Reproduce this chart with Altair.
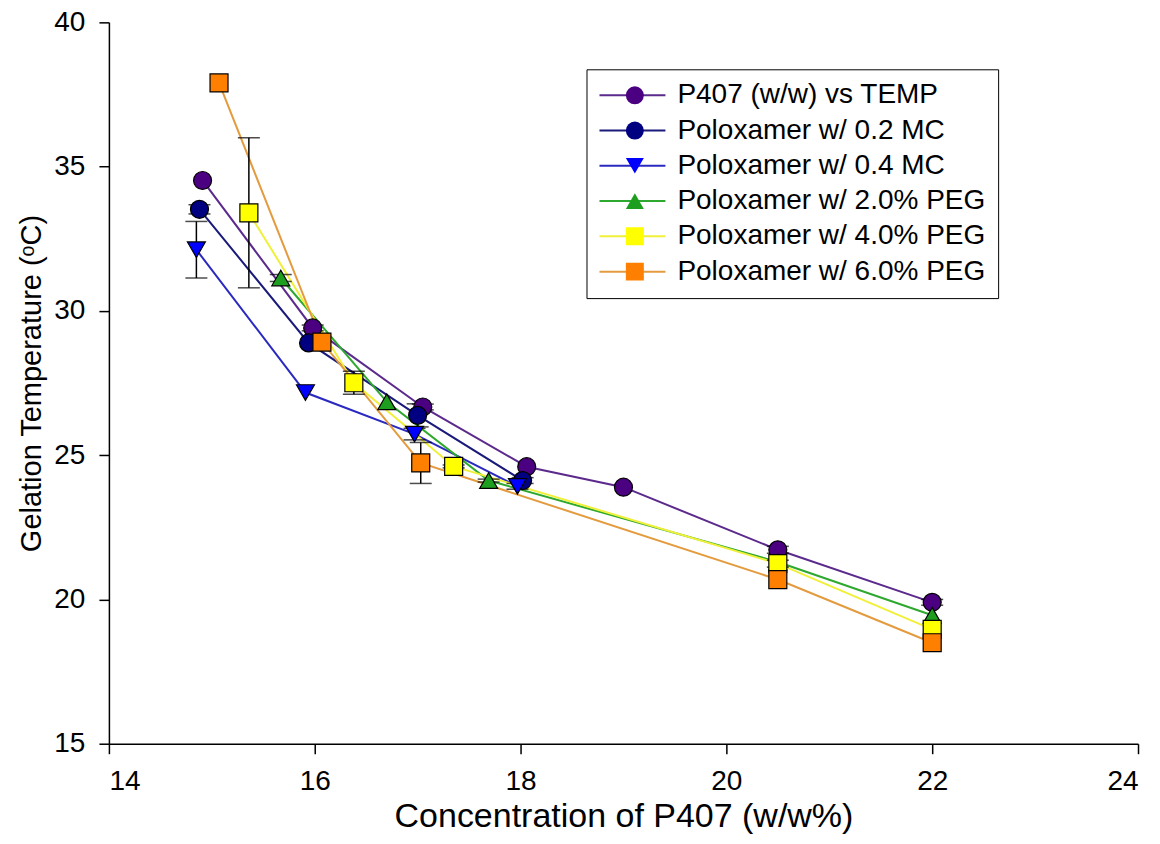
import altair as alt
import pandas as pd

# ---- data ----
names = ["P407 (w/w) vs TEMP", "Poloxamer w/ 0.2 MC", "Poloxamer w/ 0.4 MC",
         "Poloxamer w/ 2.0% PEG", "Poloxamer w/ 4.0% PEG", "Poloxamer w/ 6.0% PEG"]
keys = ["k1", "k2", "k3", "k4", "k5", "k6"]

x_p407 = [14.91, 15.98, 17.05, 18.06, 19.00, 20.50, 22.00]
y_p407 = [34.52, 29.41, 26.67, 24.60, 23.89, 21.72, 19.90]
e_p407 = [0, 0.10, 0.10, 0, 0, 0.12, 0.10]

x_mc02 = [14.88, 15.94, 17.00, 18.02]
y_mc02 = [33.52, 28.89, 26.38, 24.12]
e_mc02 = [0.16, 0, 0.40, 0.10]

x_mc04 = [14.85, 15.91, 16.97, 17.97]
y_mc04 = [32.12, 27.17, 25.73, 23.92]
e_mc04 = [0.98, 0, 0.20, 0.10]

x_peg2 = [15.67, 16.70, 17.69, 20.50, 22.00]
y_peg2 = [31.14, 26.85, 24.12, 21.30, 19.45]
e_peg2 = [0.12, 0, 0.05, 0, 0]

x_peg4 = [15.36, 16.38, 17.35, 20.50, 22.00]
y_peg4 = [33.40, 27.51, 24.61, 21.24, 18.96]
e_peg4 = [2.60, 0.40, 0.05, 0.12, 0]

x_peg6 = [15.07, 16.07, 17.03, 20.50, 22.00]
y_peg6 = [37.90, 28.92, 24.73, 20.69, 18.50]
e_peg6 = [0, 0, 0.71, 0, 0]

x_ticks = [14, 16, 18, 20, 22, 24]
y_ticks = [15, 20, 25, 30, 35, 40]

# ---- styles ----
fill_colors = ["#4B0082", "#000080", "#0000FF", "#1E9E1E", "#FFFF00", "#FF8000"]
line_colors = ["#5B2A8C", "#1A1A7A", "#2A2AC0", "#2EA82E", "#F0F03A", "#E49B3E"]
shapes = ["circle", "circle", "triangle-down", "triangle-up", "square", "square"]
sizes = [324, 324, 361, 361, 240, 240]

xs = [x_p407, x_mc02, x_mc04, x_peg2, x_peg4, x_peg6]
ys = [y_p407, y_mc02, y_mc04, y_peg2, y_peg4, y_peg6]
es = [e_p407, e_mc02, e_mc04, e_peg2, e_peg4, e_peg6]

rows = []
for i in range(len(names)):
    for xv, yv, ev in zip(xs[i], ys[i], es[i]):
        rows.append({"series": names[i], "key": keys[i], "x": xv, "y": yv,
                     "lo": yv - ev, "hi": yv + ev, "e": ev})
df = pd.DataFrame(rows)
err_df = df[df["e"] > 0]

FONT = "Liberation Sans"
XT = "Concentration of P407 (w/w%)"
YT = "Gelation Temperature (\u1d52C)"

x_scale = alt.Scale(domain=[14, 24], nice=False)
y_scale = alt.Scale(domain=[15, 40], nice=False)
x_axis = alt.Axis(values=x_ticks, format="d", title=XT, labelFontSize=28, labelFont=FONT,
                  titleFontSize=34, titleFont=FONT, labelPadding=14, titlePadding=4)
y_axis = alt.Axis(values=y_ticks, format="d", title=YT, labelFontSize=28, labelFont=FONT,
                  titleFontSize=29, titleFont=FONT, labelPadding=14, titlePadding=7)

LEG_Y = 47
LEG_PAD = 12
line_legend = alt.Legend(orient="none", legendX=478, legendY=LEG_Y, padding=LEG_PAD,
                         symbolType="stroke", symbolSize=4356, symbolStrokeWidth=2,
                         clipHeight=28, rowPadding=7.3, labelFont=FONT,
                         labelFontSize=28, labelOffset=11, labelColor="black",
                         labelLimit=500, strokeColor="black", title=None)

sym_legend = alt.Legend(orient="none", legendX=500.4, legendY=LEG_Y, padding=LEG_PAD,
                        clipHeight=28, rowPadding=7.3, labelFont=FONT,
                        labelFontSize=28, labelExpr="''", labelLimit=500,
                        symbolSize=324, symbolStrokeColor="black",
                        symbolStrokeWidth=1.2, symbolOpacity=1, title=None)

lines = alt.Chart(df).mark_line(strokeWidth=2).encode(
    x=alt.X("x:Q", scale=x_scale, axis=x_axis),
    y=alt.Y("y:Q", scale=y_scale, axis=y_axis),
    stroke=alt.Stroke("series:N", scale=alt.Scale(domain=names, range=line_colors),
                      legend=line_legend),
    order="x:Q",
)

errs = alt.Chart(err_df).mark_errorbar(ticks=True, color="black", thickness=1.5, size=22).encode(
    x=alt.X("x:Q", scale=x_scale, axis=x_axis),
    y=alt.Y("lo:Q", scale=y_scale, axis=y_axis),
    y2="hi:Q",
)

points = alt.Chart(df).mark_point(filled=True, stroke="black", strokeWidth=1.2, opacity=1).encode(
    x=alt.X("x:Q", scale=x_scale, axis=x_axis),
    y=alt.Y("y:Q", scale=y_scale, axis=y_axis),
    color=alt.Color("key:N", scale=alt.Scale(domain=keys, range=fill_colors), legend=sym_legend),
    shape=alt.Shape("key:N", scale=alt.Scale(domain=keys, range=shapes), legend=sym_legend),
    size=alt.Size("key:N", scale=alt.Scale(domain=keys, range=sizes), legend=None),
)

chart = alt.layer(lines, errs, points).properties(
    width=1030, height=722,
    autosize=alt.AutoSizeParams(type="none"),
    padding={"left": 101, "top": 14, "right": 14, "bottom": 90},
).configure_view(strokeWidth=0).configure_axis(
    domainColor="black", domainWidth=1.5, tickColor="black", tickWidth=1.5,
    tickSize=10, labelColor="black", titleColor="black", titleFontWeight="normal", grid=False,
)

chart.save("out.html", embed_options={"renderer": "svg", "actions": False})
